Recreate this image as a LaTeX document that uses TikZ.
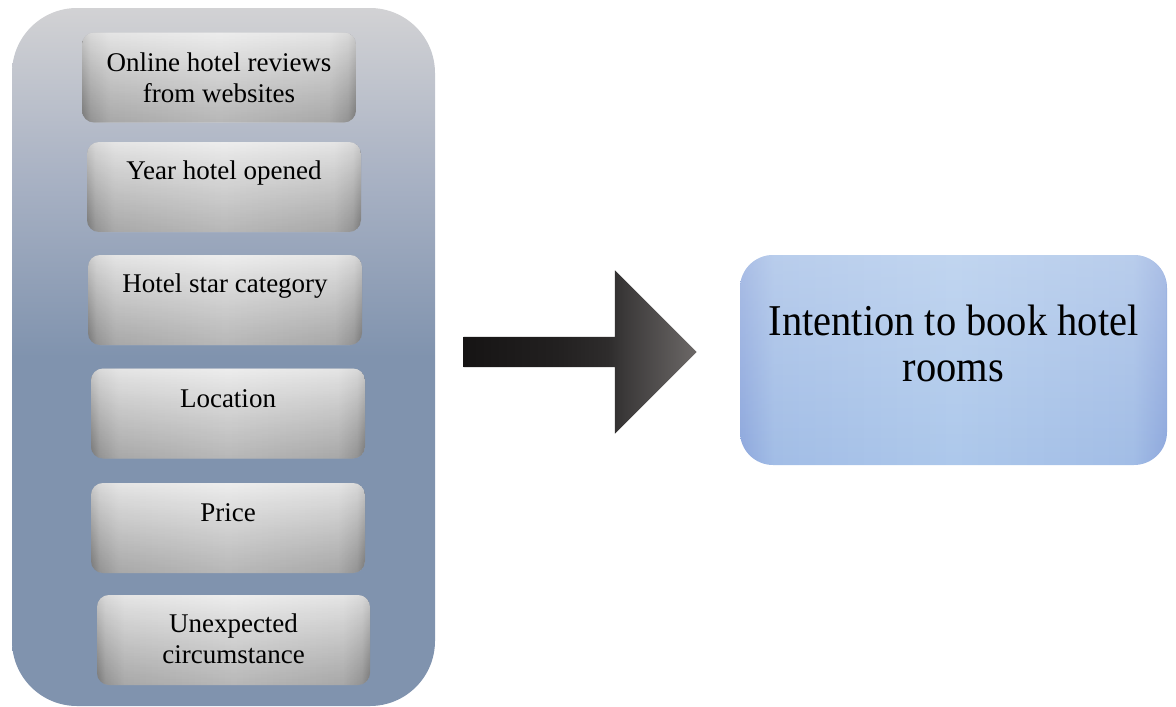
\documentclass[tikz,border=0pt]{standalone}
\usepackage{fontspec}
\setmainfont{Liberation Serif}
\newfontfamily\condserif[FakeStretch=0.92]{Liberation Serif}
\usetikzlibrary{shapes.arrows,fadings}
\definecolor{outT}{HTML}{D2D2D4}
\definecolor{outM}{HTML}{A9B2C4}
\definecolor{outB}{HTML}{8093AE}
\definecolor{gA}{HTML}{8C8C8C}
\definecolor{gB}{HTML}{ADADAD}
\definecolor{gC}{HTML}{C6C6C6}
\definecolor{gD}{HTML}{D8D8D8}
\definecolor{bA}{HTML}{8EA8DD}
\definecolor{bB}{HTML}{A2BDE6}
\definecolor{bC}{HTML}{ADC8EB}
\definecolor{aA}{HTML}{161414}
\definecolor{aB}{HTML}{222020}
\definecolor{aC}{HTML}{2E2C2C}
\definecolor{aD}{HTML}{3D3B3B}
\definecolor{aE}{HTML}{6C6867}
\pgfdeclareverticalshading{outershade}{100bp}{color(0bp)=(outB); color(25bp)=(outB); color(50bp)=(outB); color(63bp)=(outM); color(75bp)=(outT); color(100bp)=(outT)}
\pgfdeclarehorizontalshading{grayshade}{100bp}{color(0bp)=(gA); color(25bp)=(gA); color(26.5bp)=(gB); color(30bp)=(gC); color(50bp)=(gD); color(70bp)=(gC); color(73.5bp)=(gB); color(75bp)=(gA); color(100bp)=(gA)}
\pgfdeclarehorizontalshading{blueshade}{100bp}{color(0bp)=(bA); color(25bp)=(bA); color(29bp)=(bB); color(50bp)=(bC); color(71bp)=(bB); color(75bp)=(bA); color(100bp)=(bA)}
\pgfdeclarehorizontalshading{arrowshade}{100bp}{color(0bp)=(aA); color(25bp)=(aA); color(45bp)=(aB); color(56bp)=(aC); color(60bp)=(aD); color(75bp)=(aE); color(100bp)=(aE)}
\tikzfading[name=topglow, top color=transparent!45, bottom color=transparent!100]
\tikzfading[name=botshade, top color=transparent!100, bottom color=transparent!85]
\tikzset{
  panelbox/.style={rectangle, rounded corners=65pt, shading=outershade, minimum width=423pt, minimum height=698pt, inner sep=0pt},
  factorbox/.style={rectangle, rounded corners=12pt, shading=grayshade, minimum width=274pt, minimum height=90pt, inner sep=0pt,
    path picture={
      \fill[white, path fading=topglow] (path picture bounding box.north west) rectangle (path picture bounding box.south east);
      \fill[black, path fading=botshade] (path picture bounding box.north west) rectangle (path picture bounding box.south east);
    }},
  factortext/.style={anchor=base, align=center, inner sep=0pt, font=\fontsize{27}{31}\selectfont},
  goalbox/.style={rectangle, rounded corners=33pt, shading=blueshade, minimum width=427pt, minimum height=210pt, inner sep=0pt,
    path picture={
      \fill[white, path fading=topglow, fill opacity=0.45] (path picture bounding box.north west) rectangle (path picture bounding box.south east);
    }},
  goaltext/.style={anchor=base, align=center, inner sep=0pt, font=\condserif\fontsize{44}{46}\selectfont},
  bigarrow/.style={single arrow, shading=arrowshade, single arrow head extend=66.5pt, single arrow tip angle=90, minimum height=233pt, inner xsep=0pt, inner ysep=15pt}
}
\begin{document}
\begin{tikzpicture}[x=1pt,y=-1pt]
\useasboundingbox (0,0) rectangle (1176,707);
\node[panelbox] (panel) at (223.5,357) {};
\node[factorbox] (b1) at (219,77.5) {};
\node[factorbox] (b2) at (224,187) {};
\node[factorbox] (b3) at (225,300) {};
\node[factorbox] (b4) at (228,413.5) {};
\node[factorbox] (b5) at (228,528) {};
\node[factorbox, minimum width=273pt] (b6) at (233.5,640) {};
\node[factortext] (t1) at ([yshift=-70pt]b1.north) {Online hotel reviews\\from websites};
\node[factortext] (t2) at ([yshift=-38pt]b2.north) {Year hotel opened};
\node[factortext] (t3) at ([yshift=-38pt]b3.north) {Hotel star category};
\node[factortext] (t4) at ([yshift=-39pt]b4.north) {Location};
\node[factortext] (t5) at ([yshift=-39pt]b5.north) {Price};
\node[factortext] (t6) at ([yshift=-69pt]b6.north) {Unexpected\\circumstance};
\node[bigarrow] (arr) at (572.5,352) {};
\node[goalbox] (goal) at (953.5,360) {};
\node[goaltext] (gt) at ([yshift=-127pt]goal.north) {Intention to book hotel\\rooms};
\end{tikzpicture}
\end{document}
